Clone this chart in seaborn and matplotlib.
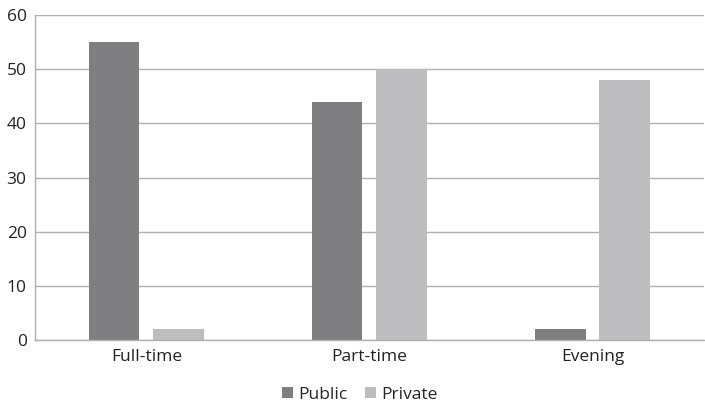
import matplotlib
matplotlib.use("Agg")
import matplotlib.pyplot as plt
import seaborn as sns
import pandas as pd

categories = ["Full-time", "Part-time", "Evening"]
public = [55, 44, 2]
private = [2, 50, 48]
series_names = ["Public", "Private"]
yticks = [0, 10, 20, 30, 40, 50, 60]

df = pd.DataFrame({
    "cat": categories * 2,
    "val": public + private,
    "series": [series_names[0]] * 3 + [series_names[1]] * 3,
})

sns.set_style("white")
plt.rcParams["font.family"] = ["Open Sans", "DejaVu Sans"]

fig = plt.figure(figsize=(7.05, 4.04), dpi=100)
ax = fig.add_axes([0.0496, 0.158, 0.949, 0.805])
sns.barplot(data=df, x="cat", y="val", hue="series", order=categories,
            hue_order=series_names, palette=["#7f7f82", "#bdbdc0"],
            width=0.578, gap=0.217, ax=ax, saturation=1, errorbar=None,
            linewidth=0)
ax.set_ylim(0, 60)
ax.set_yticks(yticks)
ax.set_xlim(-0.5, 2.5)
ax.yaxis.grid(True, color="#b0b0b0", linewidth=1)
ax.set_axisbelow(True)
for s in ["top", "right"]:
    ax.spines[s].set_visible(False)
for s in ["left", "bottom"]:
    ax.spines[s].set_color("#b0b0b0")
    ax.spines[s].set_linewidth(1)
ax.tick_params(axis="both", length=0, labelsize=12.5, colors="#222222")
ax.tick_params(axis="x", pad=6)
ax.tick_params(axis="y", pad=6)
ax.set_xlabel("")
ax.set_ylabel("")
ax.legend(loc="center", bbox_to_anchor=(0.486, -0.168), ncol=2, frameon=False,
          fontsize=12.5, handlelength=0.63, handleheight=0.63, columnspacing=1.0,
          handletextpad=0.3, borderpad=0)
fig.savefig("out.png", dpi=100)
